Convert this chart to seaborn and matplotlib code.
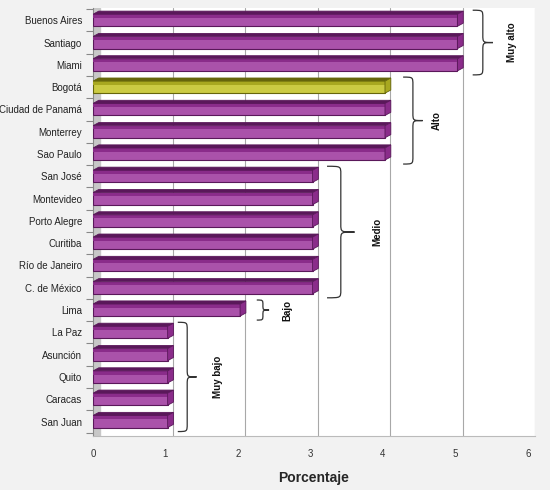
import matplotlib
matplotlib.use('Agg')
import matplotlib.pyplot as plt
import seaborn as sns
import pandas as pd
from matplotlib.path import Path
from matplotlib.patches import PathPatch, Polygon

cities = ['Buenos Aires', 'Santiago', 'Miami', 'Bogotá', 'Ciudad de Panamá',
          'Monterrey', 'Sao Paulo', 'San José', 'Montevideo', 'Porto Alegre',
          'Curitiba', 'Río de Janeiro', 'C. de México', 'Lima', 'La Paz',
          'Asunción', 'Quito', 'Caracas', 'San Juan']
values = [5, 5, 5, 4, 4, 4, 4, 3, 3, 3, 3, 3, 3, 2, 1, 1, 1, 1, 1]
highlight = 'Bogotá'

# groups: label, first city index, last city index
group_names = ['Muy alto', 'Alto', 'Medio', 'Bajo', 'Muy bajo']
group_first = [0, 3, 7, 13, 14]
group_last = [2, 6, 12, 13, 18]

df = pd.DataFrame({'ciudad': cities, 'valor': values})
purple, purple_dark, purple_side = '#b844b8', '#5a185a', '#8a2c8a'
yellow, yellow_dark, yellow_side = '#e2e22c', '#66660c', '#a8a820'
palette = {c: (yellow if c == highlight else purple) for c in cities}

sns.set_style('white')
plt.rcParams['font.family'] = ['Liberation Sans', 'DejaVu Sans']

fig = plt.figure(figsize=(5.5, 4.9), dpi=100, facecolor='#f2f2f2')
ax = fig.add_axes([93 / 550, 1 - 436 / 490, 442 / 550, 428 / 490])
ax.set_facecolor('white')

sns.barplot(data=df, x='valor', y='ciudad', hue='ciudad', palette=palette,
            orient='h', width=0.54, legend=False, ax=ax, zorder=3)

# pseudo 3D: top face and end cap on each bar, built from the bar patches
dx, dy = 0.08, 0.14
for patch, city in zip(ax.patches, cities):
    is_hl = city == highlight
    dark = yellow_dark if is_hl else purple_dark
    side = yellow_side if is_hl else purple_side
    x0, y0 = patch.get_x(), patch.get_y()
    w, h = patch.get_width() + 0.03, patch.get_height()
    patch.set_width(w)
    patch.set_edgecolor(dark)
    patch.set_linewidth(0.8)
    top = Polygon([(x0, y0), (x0 + dx, y0 - dy), (x0 + w + dx, y0 - dy), (x0 + w, y0)],
                  closed=True, facecolor=dark, edgecolor=dark, lw=0.6, zorder=4)
    cap = Polygon([(x0 + w, y0), (x0 + w + dx, y0 - dy), (x0 + w + dx, y0 + h - dy), (x0 + w, y0 + h)],
                  closed=True, facecolor=side, edgecolor=dark, lw=0.6, zorder=4)
    # darker stripe along the upper part of the front face
    stripe = Polygon([(x0, y0), (x0 + w, y0), (x0 + w, y0 + h * 0.3), (x0, y0 + h * 0.3)],
                     closed=True, facecolor=side, edgecolor='none', zorder=3.5)
    ax.add_patch(stripe)
    ax.add_patch(top)
    ax.add_patch(cap)

ax.set_xlim(0, 6.1)
ax.set_ylim(len(cities) - 0.35, -0.55)

# back wall gridlines and side wall
ax.axvspan(0, 0.1, color='#c8c8c8', zorder=1)
for k in range(1, 7):
    ax.axvline(k + 0.1, color='#a8a8a8', lw=0.8, zorder=1)

# braces with group labels
brace_x = [5.24, 4.28, 3.23, 2.26, 1.17]
brace_w = [0.28, 0.27, 0.38, 0.17, 0.26]
label_x = [5.78, 4.74, 3.93, 2.68, 1.72]
for name, i0, i1, bx, bw, lx in zip(group_names, group_first, group_last,
                                     brace_x, brace_w, label_x):
    ytop, ybot = i0 - 0.45, i1 + 0.45
    ymid = (ytop + ybot) / 2
    r = min(0.35, (ybot - ytop) / 4)
    xm = bx + bw / 2
    verts = [(bx, ytop), (xm, ytop), (xm, ytop), (xm, ytop + r),
             (xm, ymid - r),
             (xm, ymid), (xm, ymid), (bx + bw, ymid),
             (xm, ymid), (xm, ymid), (xm, ymid + r),
             (xm, ybot - r),
             (xm, ybot), (xm, ybot), (bx, ybot)]
    codes = [Path.MOVETO, Path.CURVE4, Path.CURVE4, Path.CURVE4,
             Path.LINETO,
             Path.CURVE4, Path.CURVE4, Path.CURVE4,
             Path.CURVE4, Path.CURVE4, Path.CURVE4,
             Path.LINETO,
             Path.CURVE4, Path.CURVE4, Path.CURVE4]
    ax.add_patch(PathPatch(Path(verts, codes), fill=False, edgecolor='#333333',
                           lw=0.9, zorder=5))
    ax.text(lx, ymid, name, rotation=90, ha='center', va='center',
            fontsize=7, fontweight='bold', color='#111111')

ax.set_xticks(range(0, 7))
ax.tick_params(axis='x', labelsize=7, colors='#333333', length=3, pad=6)
ax.set_yticks(range(len(cities)))
ax.set_yticks([i + 0.5 for i in range(-1, len(cities))], minor=True)
ax.tick_params(axis='y', which='major', labelsize=7, colors='#222222', length=0, pad=8)
ax.tick_params(axis='y', which='minor', left=True, length=5, width=0.8, color='#888888')
ax.set_ylabel('')
ax.set_xlabel('Porcentaje', fontsize=10, fontweight='bold', labelpad=9)

for side in ['top', 'right']:
    ax.spines[side].set_visible(False)
ax.spines['left'].set_color('#888888')
ax.spines['bottom'].set_color('#bbbbbb')

fig.savefig('out.png', dpi=100, facecolor=fig.get_facecolor())
